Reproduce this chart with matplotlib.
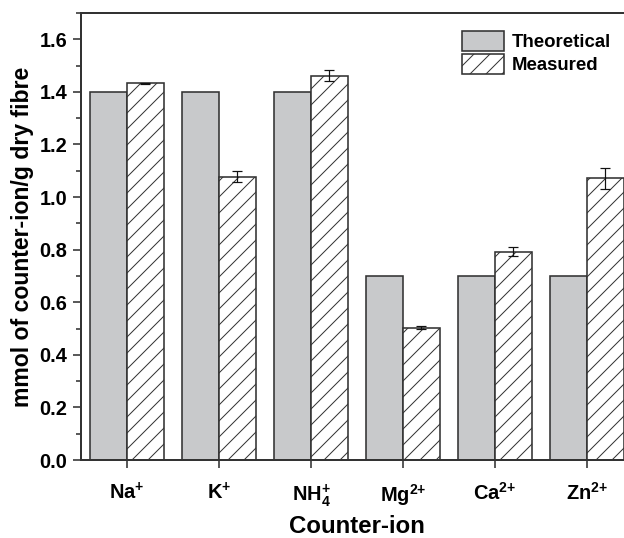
import matplotlib
matplotlib.use("Agg")
import matplotlib.pyplot as plt
from matplotlib.ticker import MultipleLocator
import numpy as np

plt.rcParams['font.family'] = ['Liberation Sans', 'DejaVu Sans']
plt.rcParams['font.weight'] = 'bold'
plt.rcParams['mathtext.fontset'] = 'custom'
plt.rcParams['mathtext.rm'] = 'Liberation Sans:bold'
plt.rcParams['mathtext.it'] = 'Liberation Sans:bold'
plt.rcParams['mathtext.bf'] = 'Liberation Sans:bold'
plt.rcParams['hatch.linewidth'] = 0.5
plt.rcParams['hatch.color'] = '#222222'

# data
ions = ['Na$^{{+}}$', 'K$^{{+}}$', 'NH$_{4}^{{+}}$', 'Mg$^{2{+}}$', 'Ca$^{2{+}}$', 'Zn$^{2{+}}$']
theoretical = [1.40, 1.40, 1.40, 0.70, 0.70, 0.70]
measured = [1.432, 1.078, 1.462, 0.503, 0.792, 1.071]
measured_err = [0.003, 0.022, 0.02, 0.005, 0.018, 0.04]

dpi = 144
fig = plt.figure(figsize=(624 / dpi, 538 / dpi), dpi=dpi)
ax = fig.add_axes([81 / 624, 1 - 460 / 538, 552 / 624, 447 / 538])

x = np.arange(len(ions))
w = 0.4
ax.bar(x - w / 2, theoretical, w, color='#c8c9cb', edgecolor='#333333',
       linewidth=0.8, label='Theoretical')
ax.bar(x + w / 2, measured, w, color='white', edgecolor='#333333',
       linewidth=0.8, hatch='///', label='Measured')
ax.errorbar(x + w / 2, measured, yerr=measured_err, fmt='none', ecolor='#111111',
            elinewidth=0.6, capsize=2.5, capthick=0.6)

ax.set_xlim(-0.5, 5.5)
ax.set_ylim(0, 1.7)
ax.set_xticks(x)
ax.set_xticklabels(ions, fontsize=10)
ax.yaxis.set_minor_locator(MultipleLocator(0.1))
yt = np.arange(0, 1.61, 0.2)
ax.set_yticks(yt)
ax.set_yticklabels(['%.1f' % v for v in yt], fontsize=10)

ax.tick_params(axis='both', which='major', direction='out', length=4.2, width=0.8, color='#333333')
ax.tick_params(axis='y', which='minor', direction='out', length=2.5, width=0.8, color='#333333')
ax.tick_params(axis='x', pad=7)
ax.tick_params(axis='y', pad=2.5)
for s in ax.spines.values():
    s.set_linewidth(1.0)
    s.set_color('#333333')

ax.set_xlabel('Counter-ion', fontsize=12, fontweight='bold', labelpad=3)
ax.set_ylabel('mmol of counter-ion/g dry fibre', fontsize=11.5, fontweight='bold', labelpad=3)

ax.legend(loc='upper left', bbox_to_anchor=(462 / 624, 1 - 31 / 538),
          bbox_transform=fig.transFigure, frameon=False, borderpad=0, borderaxespad=0,
          handlelength=2.25, handleheight=1.3, labelspacing=0.12, handletextpad=0.4,
          prop={'size': 9.3, 'weight': 'bold'})

fig.savefig('out.png', dpi=dpi)
